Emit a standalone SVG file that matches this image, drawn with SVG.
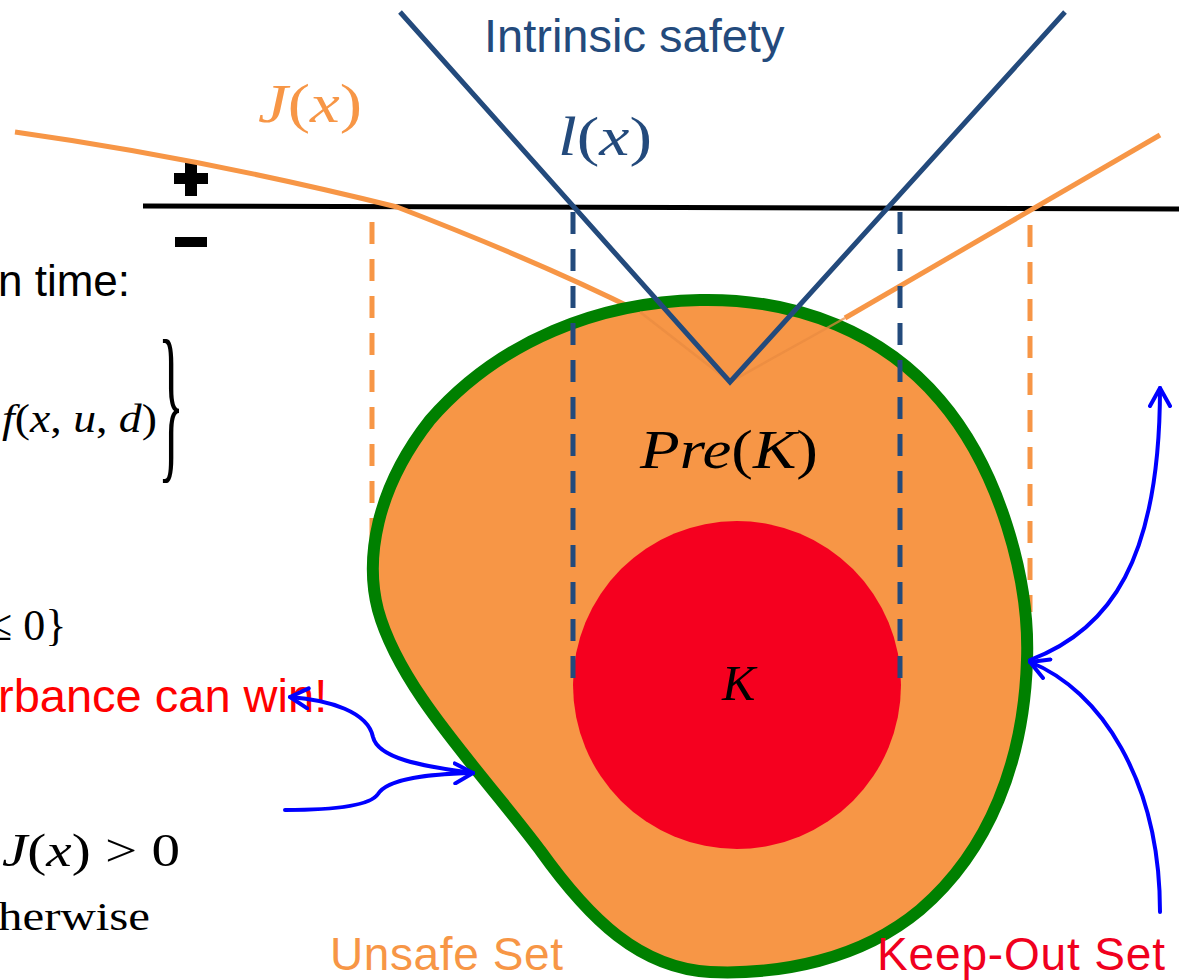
<svg xmlns="http://www.w3.org/2000/svg" width="1179" height="980" viewBox="0 0 1179 980">
<style>
.sans{font-family:"Liberation Sans",Arial,sans-serif;}
.math{font-family:"Liberation Serif","DejaVu Serif",serif;}
.it{font-style:italic;}
.orange{stroke:#f79646;fill:none;stroke-width:5;}
.navy{stroke:#234a7c;fill:none;stroke-width:5;}
.dashO{stroke:#f79646;stroke-width:5;stroke-dasharray:22 15;fill:none;}
.dashN{stroke:#234a7c;stroke-width:5;stroke-dasharray:22 15;fill:none;}
.arrow{stroke:#0000ff;stroke-width:4;fill:none;stroke-linecap:round;}
</style>
<defs>
<marker id="head" viewBox="0 0 12 12" refX="10" refY="6" markerWidth="6" markerHeight="6" orient="auto" markerUnits="strokeWidth">
<path d="M1,1 L10,6 L1,11" fill="none" stroke="#0000ff" stroke-width="2" stroke-linecap="round" stroke-linejoin="round"/>
</marker>
</defs>
<rect width="1179" height="980" fill="#ffffff"/>

<!-- left partial texts -->
<g id="left-text">
<text class="sans" x="-2" y="296" font-size="44" fill="#000">n time:</text>
<text class="math" x="2" y="432" font-size="40" fill="#000" textLength="155" lengthAdjust="spacingAndGlyphs"><tspan class="it">f</tspan>(<tspan class="it">x</tspan>, <tspan class="it">u</tspan>, <tspan class="it">d</tspan>)</text>
<text class="math" transform="translate(158,460) scale(0.9,2.9)" font-size="60" fill="#000">}</text>
<text class="math" x="-12" y="640" font-size="44" fill="#000">≤ 0}</text>
<text class="sans" x="-2" y="712" font-size="47" fill="#ff0000">rbance can win!</text>
<text class="math" x="2" y="866" font-size="46" fill="#000" textLength="178" lengthAdjust="spacingAndGlyphs"><tspan class="it">J</tspan>(<tspan class="it">x</tspan>) &gt; 0</text>
<text class="math" x="-2" y="930" font-size="40" fill="#000" textLength="152" lengthAdjust="spacingAndGlyphs">herwise</text>
</g>

<!-- axis with signs -->
<g id="axis">
<line x1="143" y1="206" x2="1179" y2="209" stroke="#000" stroke-width="5"/>
<rect x="185" y="162" width="12" height="34" fill="#000"/>
<rect x="174" y="173" width="34" height="11" fill="#000"/>
<rect x="175" y="237" width="32" height="10" fill="#000"/>
</g>

<!-- J(x) curve -->
<g id="Jcurve">
<path class="orange" d="M15,132 Q200,158 397,207 Q540,262 640,312"/>
<line class="orange" x1="845" y1="318" x2="1160" y2="135"/>
<text class="math" x="258" y="122" font-size="54" fill="#f79646" textLength="104" lengthAdjust="spacingAndGlyphs"><tspan class="it">J</tspan>(<tspan class="it">x</tspan>)</text>
</g>

<!-- orange dashed projections -->
<g id="orange-dashes">
<line class="dashO" x1="372" y1="222" x2="372" y2="540"/>
<line class="dashO" x1="1030" y1="225" x2="1030" y2="612"/>
</g>

<!-- Pre(K) blob -->
<g id="preK">
<path d="M700,300 C800,298 885,335 940,400 C1000,470 1030,580 1027,660 C1024,760 990,850 920,910 C860,960 780,975 710,972 C640,968 590,920 540,850 C480,770 400,690 378,610 C365,560 375,490 430,420 C500,340 600,302 700,300 Z" fill="#f79646" stroke="#008000" stroke-width="12"/>
<path d="M640,312 L730,382 L845,318" fill="none" stroke="#e88a40" stroke-width="2.5" opacity="0.7"/>
<text class="math" x="640" y="468" font-size="54" fill="#000" textLength="178" lengthAdjust="spacingAndGlyphs"><tspan class="it">Pre</tspan>(<tspan class="it">K</tspan>)</text>
</g>

<!-- l(x) intrinsic safety -->
<g id="lcurve">
<polyline class="navy" points="400,12 730,382 1065,12"/>
<text class="sans" x="484" y="52" font-size="47" fill="#234a7c">Intrinsic safety</text>
<text class="math" x="558" y="155" font-size="54" fill="#234a7c" textLength="94" lengthAdjust="spacingAndGlyphs"><tspan class="it">l</tspan>(<tspan class="it">x</tspan>)</text>
</g>

<!-- keep-out set K -->
<g id="K">
<circle cx="737" cy="685" r="164" fill="#f5001f"/>
<text class="math it" x="722" y="700" font-size="50" fill="#000">K</text>
</g>

<!-- navy dashed projections -->
<g id="navy-dashes">
<line class="dashN" x1="573" y1="212" x2="573" y2="686"/>
<line class="dashN" x1="900" y1="212" x2="900" y2="686"/>
</g>

<!-- connectors -->
<g id="connectors">
<path class="arrow" d="M473,773 C420,766 378,758 373,737 C368,712 330,700 290,697" marker-end="url(#head)"/>
<path class="arrow" d="M285,810 C330,810 370,806 378,794 C388,778 430,774 473,773" marker-end="url(#head)"/>
<path class="arrow" d="M1030,660 C1110,630 1160,560 1160,388" marker-end="url(#head)"/>
<path class="arrow" d="M1160,912 C1160,780 1100,690 1030,662" marker-end="url(#head)"/>
</g>

<!-- labels -->
<g id="labels">
<text class="sans" x="330" y="970" font-size="46" fill="#f79646" textLength="233">Unsafe Set</text>
<text class="sans" x="877" y="970" font-size="46" fill="#f0001e" textLength="288">Keep-Out Set</text>
</g>
</svg>
